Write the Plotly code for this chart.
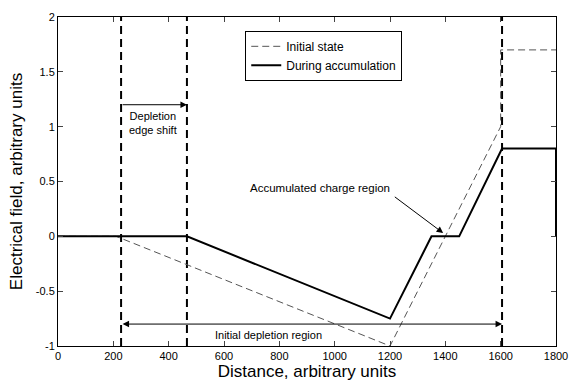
import plotly.graph_objects as go

# Data
x_initial = [0, 210, 1200, 1600, 1600, 1800]
y_initial = [0, 0, -1.0, 1.0, 1.7, 1.7]
x_accum = [0, 466, 1200, 1350, 1450, 1605, 1800, 1800]
y_accum = [0, 0, -0.75, 0, 0, 0.8, 0.8, 0]
edge_lines = [228, 466, 1605]
y_range = [-1, 2]
x_ticks = [0, 200, 400, 600, 800, 1000, 1200, 1400, 1600, 1800]
y_ticks = [-1, -0.5, 0, 0.5, 1, 1.5, 2]
y_tick_text = ["-1", "-0.5", "0", "0.5", "1", "1.5", "2"]

fig = go.Figure()

for xv in edge_lines:
    fig.add_trace(go.Scatter(x=[xv, xv], y=y_range, mode="lines",
                             line=dict(color="black", width=2, dash="8px,5px"),
                             showlegend=False, hoverinfo="skip"))

fig.add_trace(go.Scatter(x=x_initial, y=y_initial, mode="lines", name="Initial state",
                         line=dict(color="#555555", width=1, dash="7px,4px")))
fig.add_trace(go.Scatter(x=x_accum, y=y_accum, mode="lines", name="During accumulation",
                         line=dict(color="black", width=2)))

font_family = "Liberation Sans, Arial, sans-serif"

annotations = [
    # Depletion edge shift arrow
    dict(x=edge_lines[1], y=1.2, ax=edge_lines[0], ay=1.2, xref="x", yref="y",
         axref="x", ayref="y", text="", showarrow=True, arrowhead=2, arrowsize=1.3,
         arrowwidth=1, arrowcolor="black", standoff=0),
    dict(x=342, y=1.03, xref="x", yref="y", text="Depletion<br>edge shift",
         showarrow=False, font=dict(size=11, color="black", family=font_family)),
    # Initial depletion region double arrow
    dict(x=edge_lines[2], y=-0.8, ax=edge_lines[0], ay=-0.8, xref="x", yref="y",
         axref="x", ayref="y", text="", showarrow=True, arrowhead=2, startarrowhead=2,
         arrowside="end+start", arrowsize=1.3, startarrowsize=1.3,
         arrowwidth=1, arrowcolor="black", standoff=0, startstandoff=0),
    dict(x=762, y=-0.9, xref="x", yref="y", text="Initial depletion region",
         showarrow=False, font=dict(size=11, color="black", family=font_family)),
    # Accumulated charge region
    dict(x=948, y=0.44, xref="x", yref="y", text="Accumulated charge region",
         showarrow=False, font=dict(size=11.5, color="black", family=font_family)),
    dict(x=1392, y=0.03, ax=1212, ay=0.37, xref="x", yref="y",
         axref="x", ayref="y", text="", showarrow=True, arrowhead=2, arrowsize=1.3,
         arrowwidth=1, arrowcolor="black", standoff=0),
]

fig.update_layout(
    width=569, height=381,
    margin=dict(l=58, r=13, t=17, b=35),
    paper_bgcolor="white", plot_bgcolor="white",
    font=dict(family=font_family, size=11, color="black"),
    annotations=annotations,
    legend=dict(x=0.376, y=0.958, xanchor="left", yanchor="top",
                bordercolor="black", borderwidth=1, bgcolor="white",
                font=dict(size=12, color="black"), tracegroupgap=0,
                itemwidth=30),
    xaxis=dict(range=[0, 1800], tickvals=x_ticks, ticks="inside", ticklen=5,
               showline=True, linecolor="black", linewidth=1, mirror="ticks",
               showgrid=False, zeroline=False, automargin=False,
               title=dict(text="Distance, arbitrary units", standoff=0,
                          font=dict(size=17, color="black"))),
    yaxis=dict(range=y_range, tickvals=y_ticks, ticktext=y_tick_text,
               ticks="inside", ticklen=5, automargin=False,
               showline=True, linecolor="black", linewidth=1, mirror="ticks",
               showgrid=False, zeroline=False,
               title=dict(text="Electrical field, arbitrary units", standoff=8,
                          font=dict(size=17, color="black"))),
)

fig.write_html("out.html", config={"displayModeBar": False},
               post_script="document.body.style.margin='0';")
